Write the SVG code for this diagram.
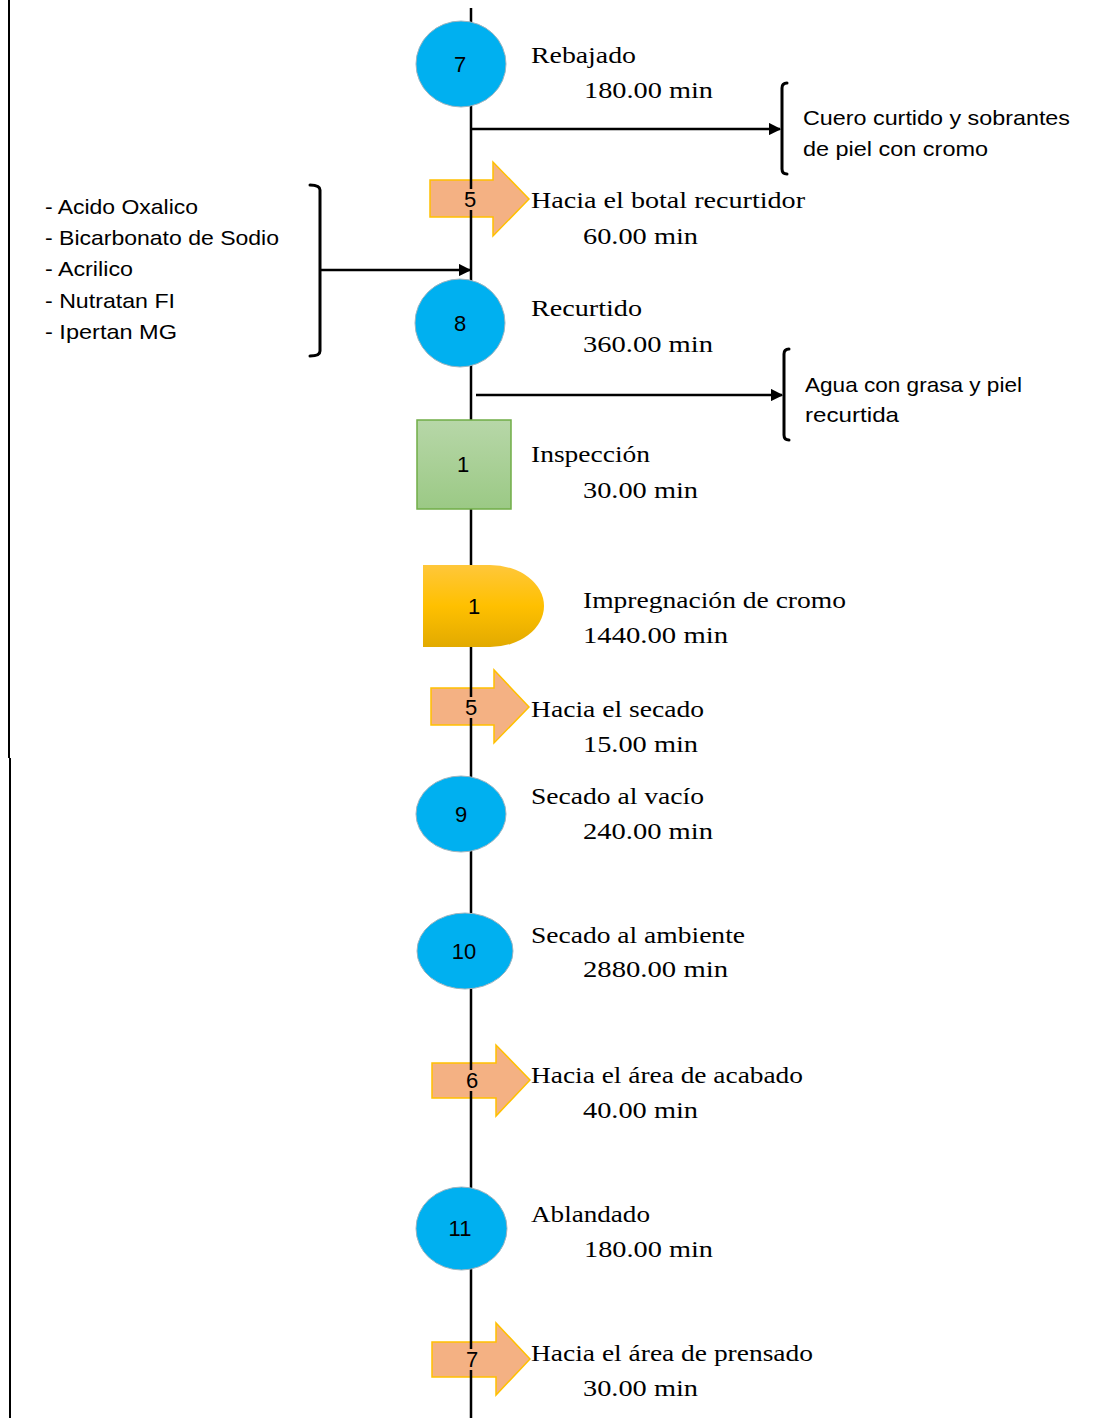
<svg xmlns="http://www.w3.org/2000/svg" width="1114" height="1418" viewBox="0 0 1114 1418">
  <style>
    .op { fill: #00B0F0; stroke: #9DB4BF; stroke-width: 1; }
    .tr { fill: #F4B183; stroke: #FFC000; stroke-width: 1.5; }
    .num { font-family: "Liberation Sans", Arial, sans-serif; font-size: 22px; fill: #000; text-anchor: middle; dominant-baseline: central; }
    .lbl { font-family: "Liberation Serif", "Times New Roman", serif; font-size: 24px; fill: #000; }
    .note { font-family: "Liberation Sans", Arial, sans-serif; font-size: 21px; fill: #000; }
    .flow { stroke: #000; stroke-width: 2.5; fill: none; }
    .brk { stroke: #000; stroke-width: 3; fill: none; stroke-linecap: round; }
  </style>
  <defs>
    <marker id="arr" viewBox="0 0 10 10" refX="9" refY="5" markerWidth="5" markerHeight="5" orient="auto" markerUnits="strokeWidth">
      <path d="M0 0 L10 5 L0 10 Z" fill="#000"/>
    </marker>
    <linearGradient id="gGreen" x1="0" y1="0" x2="0" y2="1">
      <stop offset="0" stop-color="#B7D7A8"/>
      <stop offset="1" stop-color="#9BC985"/>
    </linearGradient>
    <linearGradient id="gGold" x1="0" y1="0" x2="0" y2="1">
      <stop offset="0" stop-color="#FFC73A"/>
      <stop offset="0.5" stop-color="#FFC000"/>
      <stop offset="1" stop-color="#E2AA00"/>
    </linearGradient>
  </defs>

  <rect width="1114" height="1418" fill="#fff"/>

  <!-- page margin rule -->
  <path d="M9 0 V758 M10 758 V1418" stroke="#000" stroke-width="2" fill="none"/>

  <!-- transport arrow bodies (beneath the flow line) -->
  <g id="transport-shapes">
    <path class="tr" d="M430 180 H493 V162 L529 199 L493 236 V217 H430 Z"/>
    <path class="tr" d="M431 688 H494 V670 L529 707 L494 743 V725 H431 Z"/>
    <path class="tr" d="M432 1063 H496 V1045 L530 1080 L496 1116 V1098 H432 Z"/>
    <path class="tr" d="M432 1342 H496 V1323 L530 1359 L496 1395 V1377 H432 Z"/>
  </g>

  <!-- connectors: main flow line leaves a gap behind each transport number -->
  <g id="connectors">
    <path class="flow" d="M471 8 V189 M471 210 V697 M471 718 V1070 M471 1091 V1349 M471 1370 V1418"/>
    <line class="flow" x1="471" y1="129" x2="780" y2="129" marker-end="url(#arr)"/>
    <line class="flow" x1="320" y1="270" x2="470" y2="270" marker-end="url(#arr)"/>
    <line class="flow" x1="476" y1="395" x2="782" y2="395" marker-end="url(#arr)"/>
    <path class="brk" d="M787 83 Q782 83 782 88 V169 Q782 174 787 174"/>
    <path class="brk" d="M789 349 Q784 349 784 354 V435 Q784 440 789 440"/>
    <path class="brk" d="M310 185 Q320 185 320 190 V351 Q320 356 310 356"/>
  </g>

  <!-- transport numbers -->
  <g id="transport-5a"><text class="num" x="470" y="199">5</text></g>
  <g id="transport-5b"><text class="num" x="471" y="707">5</text></g>
  <g id="transport-6"><text class="num" x="472" y="1080">6</text></g>
  <g id="transport-7"><text class="num" x="472" y="1359">7</text></g>

  <!-- operations, inspection and delay -->
  <g id="op-7">
    <ellipse class="op" cx="461" cy="64" rx="45" ry="43"/>
    <text class="num" x="460" y="64">7</text>
  </g>
  <g id="op-8">
    <ellipse class="op" cx="460" cy="323" rx="45" ry="44"/>
    <text class="num" x="460" y="323">8</text>
  </g>
  <g id="insp-1">
    <rect x="417" y="420" width="94" height="89" fill="url(#gGreen)" stroke="#70AD47" stroke-width="1.5"/>
    <text class="num" x="463" y="464">1</text>
  </g>
  <g id="delay-1">
    <path d="M423 565 H490 A54 41 0 0 1 490 647 H423 Z" fill="url(#gGold)"/>
    <text class="num" x="474" y="606">1</text>
  </g>
  <g id="op-9">
    <ellipse class="op" cx="461" cy="814" rx="45" ry="38"/>
    <text class="num" x="461" y="814">9</text>
  </g>
  <g id="op-10">
    <ellipse class="op" cx="465" cy="951" rx="48" ry="38"/>
    <text class="num" x="464" y="951">10</text>
  </g>
  <g id="op-11">
    <ellipse class="op" cx="461.5" cy="1228.5" rx="45.5" ry="41.5"/>
    <text class="num" x="460" y="1228">11</text>
  </g>

  <!-- step labels -->
  <g id="labels">
    <text class="lbl" x="531" y="63" textLength="105" lengthAdjust="spacingAndGlyphs">Rebajado</text>
    <text class="lbl" x="584" y="98" textLength="129" lengthAdjust="spacingAndGlyphs">180.00 min</text>
    <text class="lbl" x="531" y="208" textLength="274" lengthAdjust="spacingAndGlyphs">Hacia el botal recurtidor</text>
    <text class="lbl" x="583" y="244" textLength="115" lengthAdjust="spacingAndGlyphs">60.00 min</text>
    <text class="lbl" x="531" y="316" textLength="111" lengthAdjust="spacingAndGlyphs">Recurtido</text>
    <text class="lbl" x="583" y="352" textLength="130" lengthAdjust="spacingAndGlyphs">360.00 min</text>
    <text class="lbl" x="531" y="462" textLength="119" lengthAdjust="spacingAndGlyphs">Inspección</text>
    <text class="lbl" x="583" y="498" textLength="115" lengthAdjust="spacingAndGlyphs">30.00 min</text>
    <text class="lbl" x="583" y="608" textLength="263" lengthAdjust="spacingAndGlyphs">Impregnación de cromo</text>
    <text class="lbl" x="583" y="643" textLength="145" lengthAdjust="spacingAndGlyphs">1440.00 min</text>
    <text class="lbl" x="531" y="717" textLength="173" lengthAdjust="spacingAndGlyphs">Hacia el secado</text>
    <text class="lbl" x="583" y="752" textLength="115" lengthAdjust="spacingAndGlyphs">15.00 min</text>
    <text class="lbl" x="531" y="804" textLength="173" lengthAdjust="spacingAndGlyphs">Secado al vacío</text>
    <text class="lbl" x="583" y="839" textLength="130" lengthAdjust="spacingAndGlyphs">240.00 min</text>
    <text class="lbl" x="531" y="943" textLength="214" lengthAdjust="spacingAndGlyphs">Secado al ambiente</text>
    <text class="lbl" x="583" y="977" textLength="145" lengthAdjust="spacingAndGlyphs">2880.00 min</text>
    <text class="lbl" x="531" y="1083" textLength="272" lengthAdjust="spacingAndGlyphs">Hacia el área de acabado</text>
    <text class="lbl" x="583" y="1118" textLength="115" lengthAdjust="spacingAndGlyphs">40.00 min</text>
    <text class="lbl" x="531" y="1222" textLength="119" lengthAdjust="spacingAndGlyphs">Ablandado</text>
    <text class="lbl" x="584" y="1257" textLength="129" lengthAdjust="spacingAndGlyphs">180.00 min</text>
    <text class="lbl" x="531" y="1361" textLength="282" lengthAdjust="spacingAndGlyphs">Hacia el área de prensado</text>
    <text class="lbl" x="583" y="1396" textLength="115" lengthAdjust="spacingAndGlyphs">30.00 min</text>
  </g>

  <!-- inputs and outputs -->
  <g id="inputs">
    <text class="note" x="45" y="214" textLength="153" lengthAdjust="spacingAndGlyphs">- Acido Oxalico</text>
    <text class="note" x="45" y="245" textLength="234" lengthAdjust="spacingAndGlyphs">- Bicarbonato de Sodio</text>
    <text class="note" x="45" y="276" textLength="88" lengthAdjust="spacingAndGlyphs">- Acrilico</text>
    <text class="note" x="45" y="308" textLength="130" lengthAdjust="spacingAndGlyphs">- Nutratan FI</text>
    <text class="note" x="45" y="339" textLength="132" lengthAdjust="spacingAndGlyphs">- Ipertan MG</text>
  </g>
  <g id="outputs">
    <text class="note" x="803" y="125" textLength="267" lengthAdjust="spacingAndGlyphs">Cuero curtido y sobrantes</text>
    <text class="note" x="803" y="156" textLength="185" lengthAdjust="spacingAndGlyphs">de piel con cromo</text>
    <text class="note" x="805" y="392" textLength="217" lengthAdjust="spacingAndGlyphs">Agua con grasa y piel</text>
    <text class="note" x="805" y="422" textLength="94" lengthAdjust="spacingAndGlyphs">recurtida</text>
  </g>
</svg>
